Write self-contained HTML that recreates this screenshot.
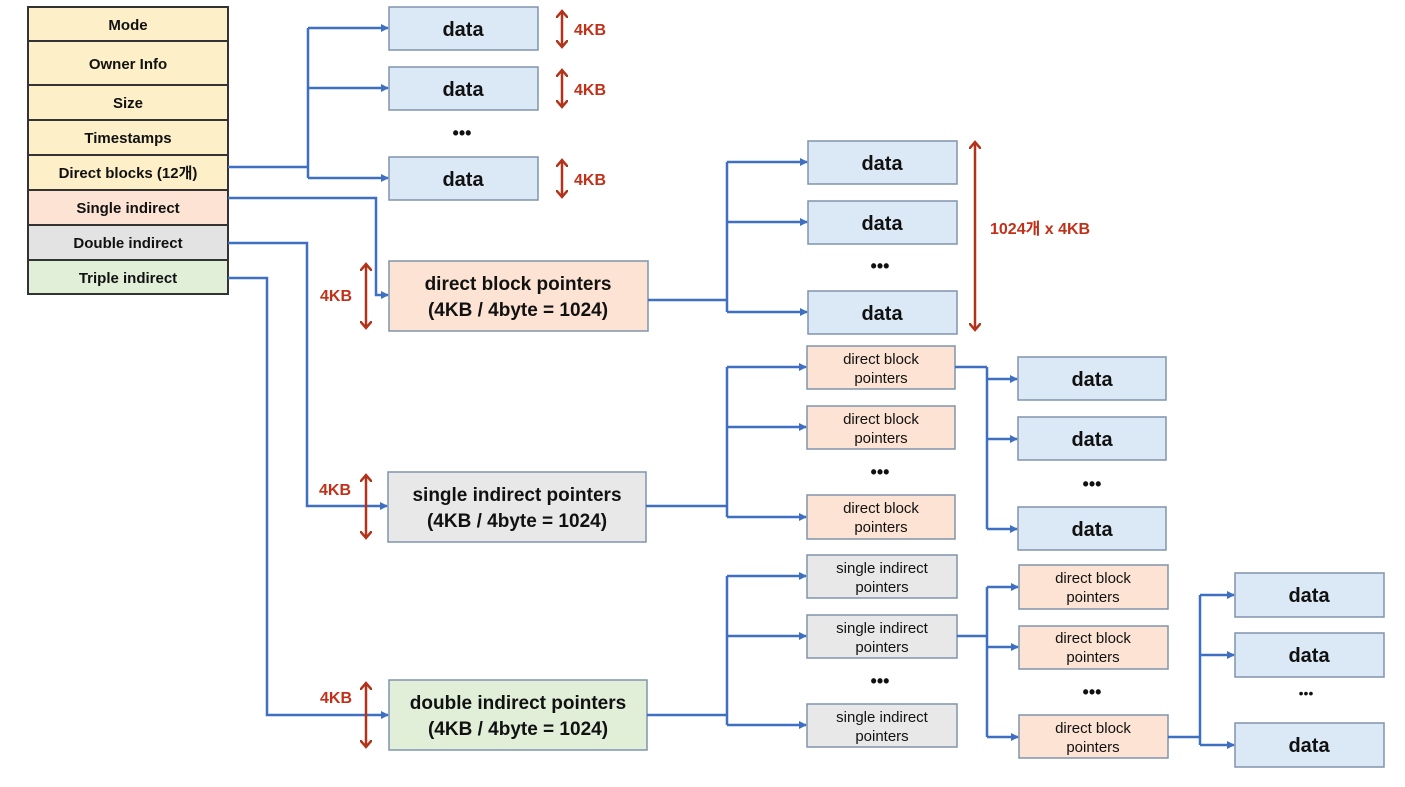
<!DOCTYPE html>
<html><head><meta charset="utf-8"><style>
html,body{margin:0;padding:0;background:#fff;}
svg{display:block}
text{font-family:"Liberation Sans","Noto Sans CJK KR",sans-serif;fill:#111;text-anchor:middle}
.b{font-weight:bold}
.r{fill:#c0311a;font-weight:bold}
.ln{stroke:#3f6fc0;stroke-width:2.5;fill:none}
.ra{stroke:#b5321a;stroke-width:2.5;fill:none}
.d{fill:#dbe8f6;stroke:#8094ad;stroke-width:1.5}
.o{fill:#fde3d3;stroke:#8094ad;stroke-width:1.5}
.g{fill:#e8e8e8;stroke:#8094ad;stroke-width:1.5}
.gr{fill:#e1efd9;stroke:#8094ad;stroke-width:1.5}
.in{stroke:#333;stroke-width:2}
</style></head><body>
<svg width="1405" height="787" viewBox="0 0 1405 787" xmlns="http://www.w3.org/2000/svg">
<defs>
<marker id="a" markerWidth="8" markerHeight="8" refX="7" refY="4" orient="auto" markerUnits="userSpaceOnUse"><path d="M0,0 L8,4 L0,8 z" fill="#3f6fc0"/></marker>
<marker id="ra" markerWidth="14" markerHeight="12" refX="7" refY="6" orient="auto-start-reverse" markerUnits="userSpaceOnUse"><path d="M0,0 L7,6 L0,12" fill="none" stroke="#b5321a" stroke-width="2.5"/></marker>
</defs>

<!-- inode table -->
<rect x="28" y="7" width="200" height="148" fill="#fdf0c8" class="in"/>
<rect x="28" y="155" width="200" height="35" fill="#fdf0c8" class="in"/>
<rect x="28" y="190" width="200" height="35" fill="#fde3d3" class="in"/>
<rect x="28" y="225" width="200" height="35" fill="#e3e3e3" class="in"/>
<rect x="28" y="260" width="200" height="34" fill="#e1efd9" class="in"/>
<line x1="28" y1="41" x2="228" y2="41" class="in"/>
<line x1="28" y1="85" x2="228" y2="85" class="in"/>
<line x1="28" y1="120" x2="228" y2="120" class="in"/>
<g class="b" font-size="15">
<text x="128" y="30">Mode</text>
<text x="128" y="69">Owner Info</text>
<text x="128" y="108">Size</text>
<text x="128" y="143">Timestamps</text>
<text x="128" y="178">Direct blocks (12개)</text>
<text x="128" y="213">Single indirect</text>
<text x="128" y="248">Double indirect</text>
<text x="128" y="283">Triple indirect</text>
</g>

<!-- direct -->
<path class="ln" d="M228,167 H308 M308,28 V178"/>
<path class="ln" marker-end="url(#a)" d="M308,28 H388"/>
<path class="ln" marker-end="url(#a)" d="M308,88 H388"/>
<path class="ln" marker-end="url(#a)" d="M308,178 H388"/>
<rect class="d" x="389" y="7" width="149" height="43"/>
<rect class="d" x="389" y="67" width="149" height="43"/>
<rect class="d" x="389" y="157" width="149" height="43"/>
<g class="b" font-size="20"><text x="463" y="36">data</text><text x="463" y="96">data</text><text x="463" y="186">data</text></g>
<text class="b" x="462" y="139" font-size="18">•••</text>
<g>
<line class="ra" x1="562" y1="11" x2="562" y2="47" marker-start="url(#ra)" marker-end="url(#ra)"/>
<line class="ra" x1="562" y1="70" x2="562" y2="107" marker-start="url(#ra)" marker-end="url(#ra)"/>
<line class="ra" x1="562" y1="160" x2="562" y2="197" marker-start="url(#ra)" marker-end="url(#ra)"/>
<g font-size="16" style="text-anchor:start"><text class="r" x="574" y="35" style="text-anchor:start">4KB</text><text class="r" x="574" y="95" style="text-anchor:start">4KB</text><text class="r" x="574" y="185" style="text-anchor:start">4KB</text></g>
</g>

<!-- single indirect -->
<path class="ln" marker-end="url(#a)" d="M228,198 H376 V295 H388"/>
<rect class="o" x="389" y="261" width="259" height="70"/>
<g class="b" font-size="19"><text x="518" y="290">direct block pointers</text><text x="518" y="316">(4KB / 4byte = 1024)</text></g>
<line class="ra" x1="366" y1="264" x2="366" y2="328" marker-start="url(#ra)" marker-end="url(#ra)"/>
<text class="r" x="336" y="301" font-size="16">4KB</text>
<path class="ln" d="M648,300 H727 M727,162 V312"/>
<path class="ln" marker-end="url(#a)" d="M727,162 H807"/>
<path class="ln" marker-end="url(#a)" d="M727,222 H807"/>
<path class="ln" marker-end="url(#a)" d="M727,312 H807"/>
<rect class="d" x="808" y="141" width="149" height="43"/>
<rect class="d" x="808" y="201" width="149" height="43"/>
<rect class="d" x="808" y="291" width="149" height="43"/>
<g class="b" font-size="20"><text x="882" y="170">data</text><text x="882" y="230">data</text><text x="882" y="320">data</text></g>
<text class="b" x="880" y="272" font-size="18">•••</text>
<line class="ra" x1="975" y1="142" x2="975" y2="330" marker-start="url(#ra)" marker-end="url(#ra)"/>
<text class="r" x="990" y="234" font-size="16" style="text-anchor:start">1024개 x 4KB</text>

<!-- double indirect -->
<path class="ln" marker-end="url(#a)" d="M228,243 H307 V506 H387"/>
<rect class="g" x="388" y="472" width="258" height="70"/>
<g class="b" font-size="19"><text x="517" y="501">single indirect pointers</text><text x="517" y="527">(4KB / 4byte = 1024)</text></g>
<line class="ra" x1="366" y1="475" x2="366" y2="538" marker-start="url(#ra)" marker-end="url(#ra)"/>
<text class="r" x="335" y="495" font-size="16">4KB</text>
<path class="ln" d="M646,506 H727 M727,367 V517"/>
<path class="ln" marker-end="url(#a)" d="M727,367 H806"/>
<path class="ln" marker-end="url(#a)" d="M727,427 H806"/>
<path class="ln" marker-end="url(#a)" d="M727,517 H806"/>
<rect class="o" x="807" y="346" width="148" height="43"/>
<rect class="o" x="807" y="406" width="148" height="43"/>
<rect class="o" x="807" y="495" width="148" height="44"/>
<g font-size="15"><text x="881" y="364">direct block</text><text x="881" y="383">pointers</text>
<text x="881" y="424">direct block</text><text x="881" y="443">pointers</text>
<text x="881" y="513">direct block</text><text x="881" y="532">pointers</text></g>
<text class="b" x="880" y="478" font-size="18">•••</text>
<path class="ln" d="M955,367 H987 M987,379 V529 M987,367 V379"/>
<path class="ln" marker-end="url(#a)" d="M987,379 H1017"/>
<path class="ln" marker-end="url(#a)" d="M987,439 H1017"/>
<path class="ln" marker-end="url(#a)" d="M987,529 H1017"/>
<rect class="d" x="1018" y="357" width="148" height="43"/>
<rect class="d" x="1018" y="417" width="148" height="43"/>
<rect class="d" x="1018" y="507" width="148" height="43"/>
<g class="b" font-size="20"><text x="1092" y="386">data</text><text x="1092" y="446">data</text><text x="1092" y="536">data</text></g>
<text class="b" x="1092" y="490" font-size="18">•••</text>

<!-- triple indirect -->
<path class="ln" marker-end="url(#a)" d="M228,278 H267 V715 H388"/>
<rect class="gr" x="389" y="680" width="258" height="70"/>
<g class="b" font-size="19"><text x="518" y="709">double indirect pointers</text><text x="518" y="735">(4KB / 4byte = 1024)</text></g>
<line class="ra" x1="366" y1="683" x2="366" y2="747" marker-start="url(#ra)" marker-end="url(#ra)"/>
<text class="r" x="336" y="703" font-size="16">4KB</text>
<path class="ln" d="M647,715 H727 M727,576 V725"/>
<path class="ln" marker-end="url(#a)" d="M727,576 H806"/>
<path class="ln" marker-end="url(#a)" d="M727,636 H806"/>
<path class="ln" marker-end="url(#a)" d="M727,725 H806"/>
<rect class="g" x="807" y="555" width="150" height="43"/>
<rect class="g" x="807" y="615" width="150" height="43"/>
<rect class="g" x="807" y="704" width="150" height="43"/>
<g font-size="15"><text x="882" y="573">single indirect</text><text x="882" y="592">pointers</text>
<text x="882" y="633">single indirect</text><text x="882" y="652">pointers</text>
<text x="882" y="722">single indirect</text><text x="882" y="741">pointers</text></g>
<text class="b" x="880" y="687" font-size="18">•••</text>
<path class="ln" d="M957,636 H987 M987,587 V737"/>
<path class="ln" marker-end="url(#a)" d="M987,587 H1018"/>
<path class="ln" marker-end="url(#a)" d="M987,647 H1018"/>
<path class="ln" marker-end="url(#a)" d="M987,737 H1018"/>
<rect class="o" x="1019" y="565" width="149" height="44"/>
<rect class="o" x="1019" y="626" width="149" height="43"/>
<rect class="o" x="1019" y="715" width="149" height="43"/>
<g font-size="15"><text x="1093" y="583">direct block</text><text x="1093" y="602">pointers</text>
<text x="1093" y="643">direct block</text><text x="1093" y="662">pointers</text>
<text x="1093" y="733">direct block</text><text x="1093" y="752">pointers</text></g>
<text class="b" x="1092" y="698" font-size="18">•••</text>
<path class="ln" d="M1168,737 H1200 M1200,595 V745"/>
<path class="ln" marker-end="url(#a)" d="M1200,595 H1234"/>
<path class="ln" marker-end="url(#a)" d="M1200,655 H1234"/>
<path class="ln" marker-end="url(#a)" d="M1200,745 H1234"/>
<rect class="d" x="1235" y="573" width="149" height="44"/>
<rect class="d" x="1235" y="633" width="149" height="44"/>
<rect class="d" x="1235" y="723" width="149" height="44"/>
<g class="b" font-size="20"><text x="1309" y="602">data</text><text x="1309" y="662">data</text><text x="1309" y="752">data</text></g>
<text x="1306" y="698" font-size="14">•••</text>
</svg>
</body></html>
